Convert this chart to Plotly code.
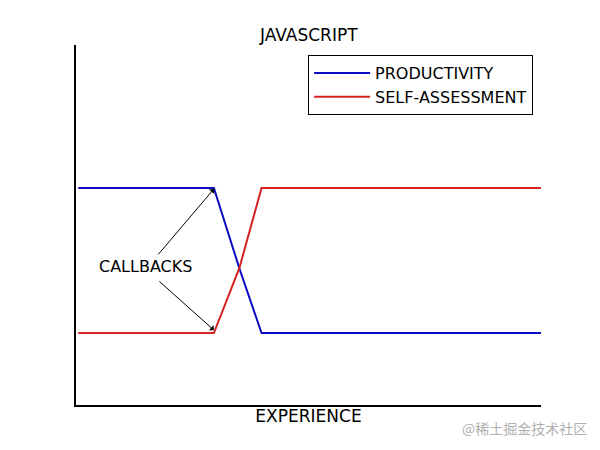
import plotly.graph_objects as go

experience = [0, 29.3, 34.8, 39.6, 100]
productivity = [6.03, 6.03, 3.8, 2.0, 2.0]
self_assessment = [2.0, 2.0, 3.8, 6.03, 6.03]

title_text = "JAVASCRIPT"
xlabel = "EXPERIENCE"
note_text = "CALLBACKS"
watermark = "@稀土掘金技术社区"

FONT = "DejaVu Sans"

fig = go.Figure()
fig.add_trace(go.Scatter(x=experience, y=productivity, mode="lines", name="PRODUCTIVITY",
                         line=dict(color="#0b0bc4", width=2)))
fig.add_trace(go.Scatter(x=experience, y=self_assessment, mode="lines", name="SELF-ASSESSMENT",
                         line=dict(color="#d82222", width=2)))

# arrows from the note to the curve corners
for hy, tx, ty in [(6.0, 17.0, 4.14), (2.08, 17.2, 3.47)]:
    fig.add_annotation(x=29.3, y=hy, ax=tx, ay=ty, axref="x", ayref="y", xref="x", yref="y",
                       text="", showarrow=True, arrowhead=1, arrowsize=1.2, arrowwidth=1,
                       arrowcolor="black")
fig.add_annotation(x=14.6, y=3.86, xref="x", yref="y", text=note_text, showarrow=False,
                   font=dict(family=FONT, size=16, color="black"))

fig.add_annotation(x=0.5, y=1.0 + 10 / 360, xref="paper", yref="paper", yanchor="middle",
                   text=title_text, showarrow=False,
                   font=dict(family=FONT, size=17, color="black"))
fig.add_annotation(x=1.0, y=-23 / 360, xref="paper", yref="paper", xshift=48,
                   xanchor="right", yanchor="middle", text=watermark, showarrow=False,
                   font=dict(family="Noto Sans CJK SC", size=14, color="#b0b0b0"))

fig.update_layout(
    width=600, height=450,
    margin=dict(l=68, r=67, t=37, b=53),
    paper_bgcolor="white", plot_bgcolor="white",
    font=dict(family=FONT, size=16, color="black"),
    showlegend=True,
    legend=dict(x=0.983, y=0.972, xanchor="right", yanchor="top",
                bordercolor="black", borderwidth=1, bgcolor="white",
                itemwidth=56,
                font=dict(family=FONT, size=16)),
    xaxis=dict(range=[-0.5, 100], showline=True, linecolor="black", linewidth=1.5,
               showgrid=False, zeroline=False, showticklabels=False, ticks="",
               title=dict(text=xlabel, standoff=4, font=dict(family=FONT, size=17))),
    yaxis=dict(range=[0, 10], showline=True, linecolor="black", linewidth=1.5,
               showgrid=False, zeroline=False, showticklabels=False, ticks=""),
)

fig.write_html("out.html")
